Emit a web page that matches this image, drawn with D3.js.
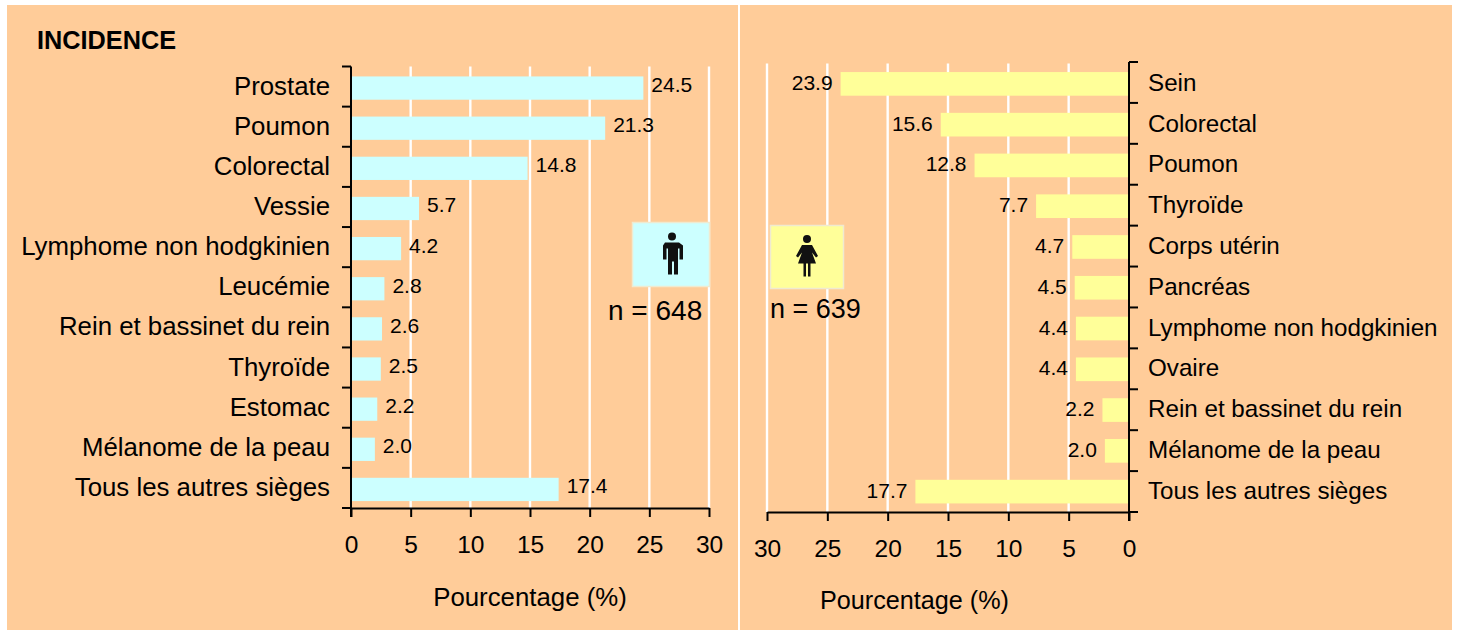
<!DOCTYPE html>
<html><head><meta charset="utf-8">
<script src="https://cdnjs.cloudflare.com/ajax/libs/d3/7.8.5/d3.min.js"></script>
<style>html,body{margin:0;padding:0;background:#fff}svg{display:block}text{font-family:"Liberation Sans",Arial,sans-serif;fill:#000}</style>
</head><body><svg id="c" width="1457" height="631"></svg>
<script>
const menCategories=["Prostate","Poumon","Colorectal","Vessie","Lymphome non hodgkinien","Leucémie","Rein et bassinet du rein","Thyroïde","Estomac","Mélanome de la peau","Tous les autres sièges"];
const menValues=[24.5,21.3,14.8,5.7,4.2,2.8,2.6,2.5,2.2,2.0,17.4];
const womenCategories=["Sein","Colorectal","Poumon","Thyroïde","Corps utérin","Pancréas","Lymphome non hodgkinien","Ovaire","Rein et bassinet du rein","Mélanome de la peau","Tous les autres sièges"];
const womenValues=[23.9,15.6,12.8,7.7,4.7,4.5,4.4,4.4,2.2,2.0,17.7];
const xTicks=[0,5,10,15,20,25,30];
const svg=d3.select("#c");
svg.append("rect").attr("x",7).attr("y",5).attr("width",731).attr("height",625).attr("fill","#ffcc99");
svg.append("rect").attr("x",740).attr("y",5).attr("width",712).attr("height",625).attr("fill","#ffcc99");
svg.append("text").attr("x",37).attr("y",48.500).attr("font-size",25).attr("font-weight","bold").attr("textLength",139).attr("lengthAdjust","spacingAndGlyphs").text("INCIDENCE");

function panel(o){
  const x=d3.scaleLinear().domain([0,30]).range(o.xr);
  const y=d3.scaleBand().domain(o.cats).range(o.yr).paddingInner(0.42).paddingOuter(0.21);
  const g=svg.append("g");
  g.selectAll("line.grid").data(xTicks.slice(1)).join("line").attr("class","grid")
    .attr("x1",x).attr("x2",x).attr("y1",o.yr[0]).attr("y2",o.yr[1])
    .attr("stroke","#fff").attr("stroke-width",2.4);
  g.selectAll("rect.bar").data(o.vals).join("rect").attr("class","bar")
    .attr("x",d=>Math.min(x(0),x(d))).attr("width",d=>Math.abs(x(d)-x(0)))
    .attr("y",(d,i)=>y(o.cats[i])+o.barDy).attr("height",y.bandwidth()).attr("fill",o.color);
  g.selectAll("text.val").data(o.vals).join("text").attr("class","val")
    .attr("x",d=>x(d)+o.dir*8).attr("y",(d,i)=>y(o.cats[i])+y.bandwidth()/2+o.barDy+o.valDy)
    .attr("text-anchor",o.dir>0?"start":"end").attr("font-size",21).text(d=>d.toFixed(1));
  const ax=d3.axisBottom(x).tickValues(xTicks).tickSize(9).tickPadding(18.5).tickSizeOuter(0);
  const gx=g.append("g").attr("transform",`translate(0,${o.axisY})`).call(ax);
  gx.selectAll("text").attr("font-size",24.5).attr("font-family",'"Liberation Sans",Arial,sans-serif');
  gx.selectAll("line,path").attr("stroke","#000").attr("stroke-width",2);
  const step=(o.axisY-o.axisTop)/o.cats.length;
  const edges=d3.range(o.cats.length+1).map(i=>o.axisTop+i*step);
  g.append("line").attr("x1",x(0)).attr("x2",x(0)).attr("y1",o.axisTop).attr("y2",o.axisY+9).attr("stroke","#000").attr("stroke-width",2);
  g.selectAll("line.yt").data(edges).join("line").attr("class","yt")
    .attr("x1",x(0)).attr("x2",x(0)-o.dir*9).attr("y1",d=>d).attr("y2",d=>d).attr("stroke","#000").attr("stroke-width",2);
  g.selectAll("text.cat").data(o.cats).join("text").attr("class","cat")
    .attr("x",o.labelX).attr("y",d=>y(d)+y.bandwidth()/2+o.barDy+o.labelDy)
    .attr("text-anchor",o.dir>0?"end":"start").attr("font-size",o.labelSize).text(d=>d);
  g.append("text").attr("x",o.titleX).attr("y",o.titleY).attr("text-anchor","middle").attr("font-size",o.titleSize).text("Pourcentage (%)");
}
panel({cats:menCategories,vals:menValues,xr:[351,709],yr:[66.5,508],axisTop:66.5,axisY:508,barDy:1.5,valDy:4,color:"#ccffff",dir:1,labelX:330,labelDy:6.5,labelSize:25.8,titleX:530,titleY:606,titleSize:25.8});
panel({cats:womenCategories,vals:womenValues,xr:[1129,767],yr:[63.5,512],axisTop:62,axisY:512,barDy:0,valDy:6,color:"#ffff99",dir:-1,labelX:1148,labelDy:7,labelSize:24.2,titleX:914.500,titleY:609,titleSize:25.2});

function legend(bx,by,bw,bh,fill,d,cx,cy,nx,ny,n,fs){
  svg.append("rect").attr("x",bx).attr("y",by).attr("width",bw).attr("height",bh).attr("fill",fill).attr("stroke","#f0ead0").attr("stroke-width",1.5);
  svg.append("path").attr("transform",`translate(${cx},${cy})`).attr("d",d).attr("fill","#111");
}
function nLabel(nx,ny,n,fs){svg.append("text").attr("x",nx).attr("y",ny).attr("font-size",fs).text(n);}
const man="M-4-17a4 4 0 1 1 8 0a4 4 0 1 1-8 0zM-7-11h14l4 3v14h-3.500v-11h-1.500v26h-4v-13h-2v13h-4v-26h-1.500v11h-3.500v-14z";
const woman="M-4-17a4 4 0 1 1 8 0a4 4 0 1 1-8 0zM-5-11h10l6 11-2 1.500-4-5 4 11h-5.500v13h-2.500v-13h-2v13h-2.500v-13h-5.500l4-11-4 5-2-1.500z";
legend(632.500,222.500,77,64,"#ccffff",man,672,253.500);
nLabel(608,320,"n = 648",28);
legend(770.500,225.500,73,63,"#ffff99",woman,807,256);
nLabel(770,318,"n = 639",27);
</script></body></html>
